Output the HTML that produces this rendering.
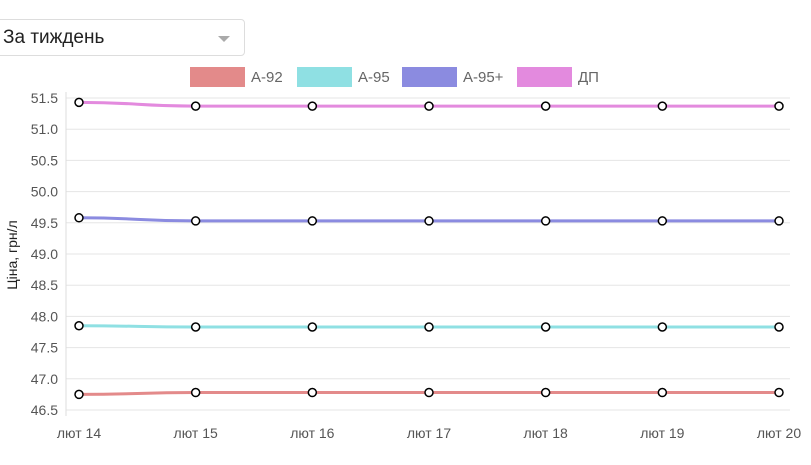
<!DOCTYPE html>
<html><head><meta charset="utf-8"><style>
body{margin:0;width:811px;height:465px;background:#fff;overflow:hidden;font-family:"Liberation Sans",sans-serif;}
#sel{position:absolute;left:-5px;top:19px;width:250px;height:37px;border:1px solid #ddd;border-radius:4px;box-sizing:border-box;font-size:19px;color:#222;line-height:35px;padding-left:7px;}
#sel .arr{position:absolute;right:14px;top:16px;width:0;height:0;border-left:6px solid transparent;border-right:6px solid transparent;border-top:6px solid #aaa;}
svg{position:absolute;left:0;top:0;}
</style></head><body>
<div id="sel">За тиждень<span class="arr"></span></div>
<svg id="c" width="811" height="465"></svg>
<script>
const categories=["лют 14","лют 15","лют 16","лют 17","лют 18","лют 19","лют 20"];
const yTicks=[46.5,47.0,47.5,48.0,48.5,49.0,49.5,50.0,50.5,51.0,51.5];
const seriesNames=["А-92","А-95","А-95+","ДП"];
const seriesColors=["#e38a8a","#8fe0e3","#8b8be0","#e38ade"];
const a92=[46.75,46.78,46.78,46.78,46.78,46.78,46.78];
const a95=[47.85,47.83,47.83,47.83,47.83,47.83,47.83];
const a95p=[49.58,49.53,49.53,49.53,49.53,49.53,49.53];
const dp=[51.43,51.37,51.37,51.37,51.37,51.37,51.37];
const allSeries=[a92,a95,a95p,dp];
const NS="http://www.w3.org/2000/svg";
const svg=document.getElementById('c');
const x=i=>79+i*(700/(categories.length-1));
const y=v=>410-(v-46.5)*(312/5);
function mk(t,a,p){const e=document.createElementNS(NS,t);for(const k in a)e.setAttribute(k,a[k]);(p||svg).appendChild(e);return e;}
yTicks.forEach(v=>{
 const g=mk('line',{x1:66,x2:790,y1:y(v),y2:y(v),stroke:'#e5e5e5','stroke-width':1});
 
 
 const t=mk('text',{x:58,y:y(v)+5,'text-anchor':'end','font-size':14,fill:'#555'});t.textContent=v.toFixed(1);
 
 
});
const ax=mk('line',{x1:66,x2:66,y1:92,y2:416,stroke:'#ddd'});


categories.forEach((c,i)=>{
 const t=mk('text',{x:x(i),y:438,'text-anchor':'middle','font-size':14,fill:'#555'});t.textContent=c;
 
 
});
const yt=mk('text',{transform:'translate(17,255) rotate(-90)','text-anchor':'middle','font-size':14,fill:'#222'});yt.textContent='Ціна, грн/л';


const lx=[190,297,402,517];
seriesNames.forEach((n,k)=>{
 const r=mk('rect',{x:lx[k],y:67,width:55,height:20,fill:seriesColors[k]});
 
 
 const t=mk('text',{x:lx[k]+61,y:82,'font-size':15,fill:'#666'});t.textContent=n;
 
 
});
allSeries.forEach((s,k)=>{
 let d='';
 s.forEach((v,i)=>{
  if(i==0)d+='M'+x(i)+','+y(v);
  else{const cx=(x(i-1)+x(i))/2;d+=' C'+cx+','+y(s[i-1])+' '+cx+','+y(v)+' '+x(i)+','+y(v);}
 });
 const p=mk('path',{d:d,fill:'none',stroke:seriesColors[k],'stroke-width':3});
 
 
 s.forEach((v,i)=>{
  const c=mk('circle',{cx:x(i),cy:y(v),r:4,fill:'#fff',stroke:'#000','stroke-width':1.5});
  
  
 });
});
</script>
</body></html>
